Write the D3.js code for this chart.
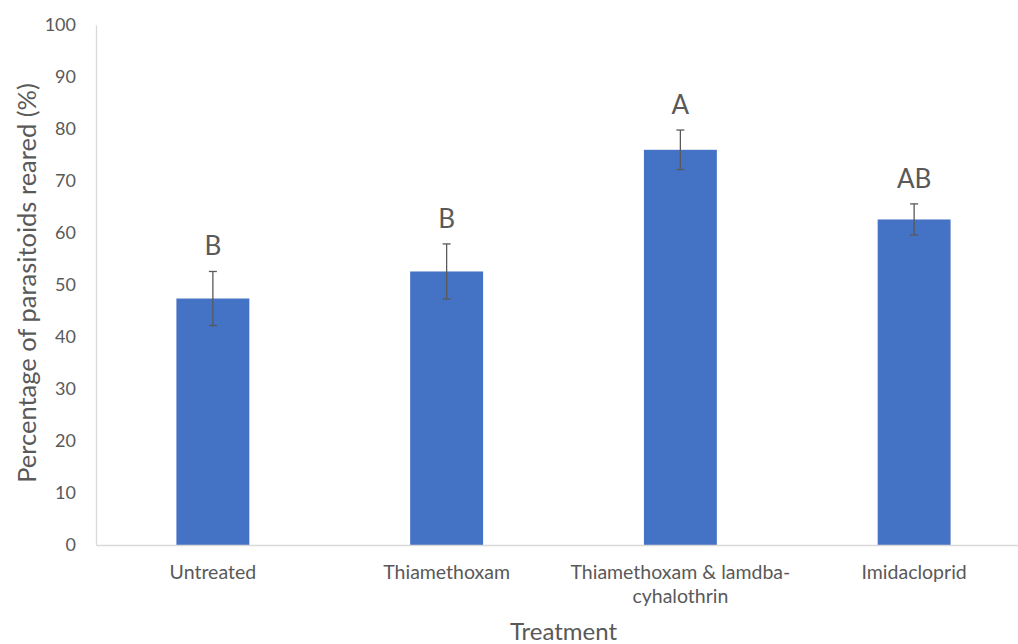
<!DOCTYPE html>
<html>
<head>
<meta charset="utf-8">
<script src="https://cdn.jsdelivr.net/npm/d3@7"></script>
<style>
  html, body { margin: 0; padding: 0; background: #fff; }
  svg { display: block; font-family: Lato, "Open Sans", sans-serif; }
</style>
</head>
<body>
<svg id="chart" width="1018" height="644"></svg>
<script>
// Parasitoid rearing success by insecticide treatment
const categories = ["Untreated", "Thiamethoxam", "Thiamethoxam & lamdba-cyhalothrin", "Imidacloprid"];
const categoryLines = [["Untreated"], ["Thiamethoxam"], ["Thiamethoxam & lamdba-", "cyhalothrin"], ["Imidacloprid"]];
const values = [47.4, 52.6, 76.0, 62.6];
const errors = [5.2, 5.3, 3.8, 3.0];
const groupLetters = ["B", "B", "A", "AB"];
const yTicks = [0, 10, 20, 30, 40, 50, 60, 70, 80, 90, 100];

const svg = d3.select("#chart");
const plotLeft = 96, plotRight = 1031, plotTop = 25, plotBottom = 545;
const textColor = "#595959";
const axisColor = "#d9d9d9";
const barColor = "#4472C4";

const x = d3.scaleBand()
  .domain(categories)
  .range([plotLeft, plotRight])
  .paddingInner(0.688)
  .paddingOuter(0.344);

const y = d3.scaleLinear().domain([0, 100]).range([plotBottom, plotTop]);

// Y axis: labels only, with a light vertical rule
const yAxis = svg.append("g")
  .attr("transform", `translate(${plotLeft},0)`)
  .call(d3.axisLeft(y).tickValues(yTicks).tickSize(0).tickPadding(20));
yAxis.select(".domain").attr("stroke", axisColor).attr("stroke-width", 1.3);
yAxis.selectAll("text")
  .attr("fill", textColor)
  .attr("font-size", 18)
  .attr("font-family", "Lato, sans-serif");

// Bars
svg.append("g").selectAll("rect")
  .data(categories)
  .join("rect")
  .attr("x", d => x(d))
  .attr("width", x.bandwidth())
  .attr("y", (d, i) => y(values[i]))
  .attr("height", (d, i) => y(0) - y(values[i]))
  .attr("fill", barColor);

// X axis baseline
const xAxis = svg.append("g")
  .attr("transform", `translate(0,${plotBottom})`)
  .call(d3.axisBottom(x).tickSize(0).tickFormat(""));
xAxis.select(".domain").attr("stroke", axisColor).attr("stroke-width", 1.3);

// Category labels (wrapped)
const catLabels = svg.append("g").selectAll("text")
  .data(categories)
  .join("text")
  .attr("x", d => x(d) + x.bandwidth() / 2)
  .attr("y", 579)
  .attr("text-anchor", "middle")
  .attr("fill", textColor)
  .attr("font-size", 19.5);
catLabels.each(function(d, i) {
  const t = d3.select(this);
  categoryLines[i].forEach((line, j) => {
    t.append("tspan")
      .attr("x", x(d) + x.bandwidth() / 2)
      .attr("dy", j === 0 ? 0 : 24)
      .text(line);
  });
});

// Error bars
const err = svg.append("g").attr("stroke", "#595959").attr("stroke-width", 1.3);
categories.forEach((c, i) => {
  const cx = x(c) + x.bandwidth() / 2;
  const hi = y(values[i] + errors[i]);
  const lo = y(values[i] - errors[i]);
  err.append("line").attr("x1", cx).attr("x2", cx).attr("y1", hi).attr("y2", lo);
  err.append("line").attr("x1", cx - 4).attr("x2", cx + 4).attr("y1", hi).attr("y2", hi);
  err.append("line").attr("x1", cx - 4).attr("x2", cx + 4).attr("y1", lo).attr("y2", lo);
});

// Significance letters
svg.append("g").selectAll("text")
  .data(categories)
  .join("text")
  .attr("x", d => x(d) + x.bandwidth() / 2)
  .attr("y", (d, i) => y(values[i] + errors[i]) - 16)
  .attr("text-anchor", "middle")
  .attr("fill", textColor)
  .attr("font-size", 26)
  .text((d, i) => groupLetters[i]);

// Axis titles
svg.append("text")
  .attr("x", (plotLeft + plotRight) / 2)
  .attr("y", 640)
  .attr("text-anchor", "middle")
  .attr("fill", textColor)
  .attr("font-size", 24)
  .text("Treatment");

svg.append("text")
  .attr("transform", `translate(36,${(plotTop + plotBottom) / 2 - 2}) rotate(-90)`)
  .attr("text-anchor", "middle")
  .attr("fill", textColor)
  .attr("font-size", 25.5)
  .text("Percentage of parasitoids reared (%)");
</script>
</body>
</html>
